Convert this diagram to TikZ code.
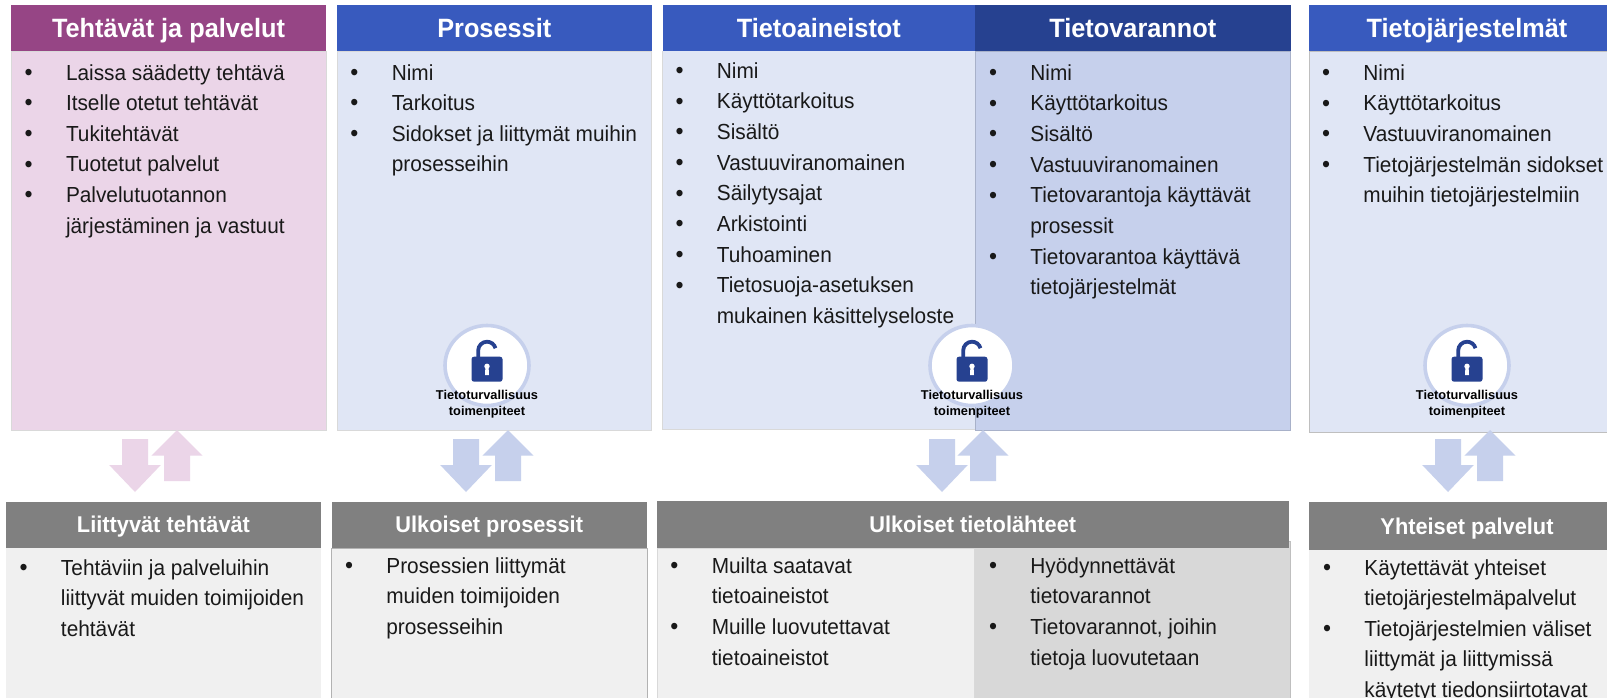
\documentclass[tikz,border=0pt]{standalone}
\usepackage{fontspec}
\setmainfont[FakeStretch=0.955]{Liberation Sans}
\newfontfamily\plainsans{Liberation Sans}
\definecolor{purpH}{HTML}{964585}
\definecolor{purpB}{HTML}{EBD5E8}
\definecolor{blueH}{HTML}{385ABE}
\definecolor{blueD}{HTML}{264190}
\definecolor{blueB}{HTML}{E0E6F5}
\definecolor{blueC}{HTML}{C6D0EC}
\definecolor{greyH}{HTML}{808080}
\definecolor{greyB}{HTML}{F0F0F0}
\definecolor{greyD}{HTML}{D8D8D8}
\definecolor{lockC}{HTML}{264190}
\newcommand{\bxx}[7]{%
  \pgfmathsetmacro{\bw}{#5-#3}\pgfmathsetmacro{\bh}{#6-#4}%
  \node[#2,minimum width=\bw pt,minimum height=\bh pt,anchor=north west] (#1) at (#3,#4) {#7};}
\newcommand{\li}[1]{\makebox[37.4pt][l]{\hspace*{-4pt}\raisebox{-0.2pt}{\scalebox{1.1}{•}}}#1}
\newcommand{\cn}[1]{\hspace*{37.4pt}#1}
\newcommand{\itemsat}[4]{% name, bullet centre x, first baseline y, lines
  \pgfmathsetmacro{\bxpos}{#2-0}\pgfmathsetmacro{\bypos}{#3-20}%
  \node[listtxt,anchor=north west] (#1) at (\bxpos,\bypos) {\rule{0pt}{20pt}#4};}
\newcommand{\lockicon}[2]{% name, centre x
  \node[ringc] (#1ring) at (#2,365.5) {};
  \fill[lockC,rounded corners=2.5pt] (#2-15.5,356.7) rectangle (#2+15.5,381.7);
  \draw[lockC,line width=3.8pt] (#2-8.8,357.5) -- (#2-8.8,350.5) arc[start angle=180,end angle=345,radius=8.8];
  \fill[white] (#2,366.3) circle[radius=2.7];
  \fill[white] (#2-1.6,367) -- (#2+1.6,367) -- (#2+2,375) -- (#2-2,375) -- cycle;
  \node[locktxt] (#1txt) at (#2,404.3) {Tietoturvallisuus\\toimenpiteet};}
\newcommand{\downarr}[2]{% shaft centre x, colour
  \fill[#2] (#1-13,439) -- (#1+13,439) -- (#1+13,465) -- (#1+25.8,465) -- (#1,492) -- (#1-25.8,465) -- (#1-13,465) -- cycle;}
\newcommand{\uparr}[2]{%
  \fill[#2] (#1-13,481) -- (#1+13,481) -- (#1+13,455.7) -- (#1+25.6,455.7) -- (#1,430) -- (#1-25.6,455.7) -- (#1-13,455.7) -- cycle;}
\tikzset{
  boxbase/.style={rectangle,inner sep=0pt,outer sep=0pt,line width=0.9pt},
  headA/.style={boxbase,text=white,font=\fontsize{26.5}{28}\selectfont\bfseries,text height=18.5pt,text depth=0pt},
  headB/.style={boxbase,text=white,font=\fontsize{22.8}{26}\selectfont\bfseries,text height=16pt,text depth=0pt},
  listtxt/.style={inner sep=0pt,outer sep=0pt,align=left,text=black!90,font=\fontsize{21.8}{30.65}\selectfont},
  ringc/.style={ellipse,minimum width=84pt,minimum height=80pt,inner sep=0pt,fill=white,draw=blueC,line width=3.6pt},
  locktxt/.style={inner sep=0pt,align=center,text=black,font=\fontsize{12.8}{16}\selectfont\plainsans\bfseries},
}
\usetikzlibrary{shapes.geometric}
\begin{document}
\begin{tikzpicture}[x=1pt,y=-1pt]
\clip (0,0) rectangle (1607,697);
\fill[white] (0,0) rectangle (1607,697);
% upper bodies
\bxx{b1}{boxbase,fill=purpB,draw=black!15}{11.5}{51}{326}{430.5}{}
\bxx{b2}{boxbase,fill=blueB,draw=black!15}{337}{51}{651.5}{430.5}{}
\bxx{b3r}{boxbase,fill=blueC,draw=blueC!85!black}{975}{51}{1290.6}{430.5}{}
\bxx{b3l}{boxbase,fill=blueB,draw=none}{662.6}{51}{975}{429.5}{}
\draw[black!15,line width=0.9pt] (b3l.north west) -- (b3l.south west) -- (b3l.south east);
\bxx{b4}{boxbase,fill=blueB,draw=black!25}{1309}{51}{1625}{432.7}{}
% upper headers
\bxx{h1}{headA,fill=purpH}{11}{5}{326}{51}{Tehtävät ja palvelut}
\bxx{h2}{headA,fill=blueH}{337}{5}{651.5}{51}{Prosessit}
\bxx{h3l}{headA,fill=blueH}{662.6}{5}{975}{51}{Tietoaineistot}
\bxx{h3r}{headA,fill=blueD}{975}{5}{1290.6}{51}{Tietovarannot}
\bxx{h4}{headA,fill=blueH}{1309}{5}{1625}{51}{Tietojärjestelmät}
% lower bodies
\bxx{c1}{boxbase,fill=greyB,draw=none}{6}{548}{321}{705}{}
\bxx{c2}{boxbase,fill=greyB,draw=black!30}{331.5}{548}{647}{705}{}
\bxx{c3r}{boxbase,fill=greyD,draw=black!25}{974}{541}{1290.6}{705}{}
\bxx{c3l}{boxbase,fill=greyB,draw=black!15}{657}{548}{974}{705}{}
\bxx{c4}{boxbase,fill=greyB,draw=none}{1309}{550}{1625}{705}{}
% lower headers
\bxx{g1}{headB,fill=greyH}{6}{501.7}{321}{548}{Liittyvät tehtävät}
\bxx{g2}{headB,fill=greyH}{331.5}{501.7}{647}{548}{Ulkoiset prosessit}
\bxx{g3}{headB,fill=greyH}{657}{501}{1288.5}{548}{Ulkoiset tietolähteet}
\bxx{g4}{headB,fill=greyH}{1309}{502}{1625}{550}{Yhteiset palvelut}
% arrows
\downarr{135}{purpB}\uparr{177}{purpB}
\downarr{466}{blueC}\uparr{508}{blueC}
\downarr{942}{blueC}\uparr{983}{blueC}
\downarr{1448}{blueC}\uparr{1490}{blueC}
% locks
\lockicon{lk1}{487}
\lockicon{lk2}{972}
\lockicon{lk3}{1467}
% upper lists
\itemsat{t1}{28.6}{80}{\li{Laissa säädetty tehtävä}\\\li{Itselle otetut tehtävät}\\\li{Tukitehtävät}\\\li{Tuotetut palvelut}\\\li{Palvelutuotannon}\\\cn{järjestäminen ja vastuut}}
\itemsat{t2}{354.4}{80}{\li{Nimi}\\\li{Tarkoitus}\\\li{Sidokset ja liittymät muihin}\\\cn{prosesseihin}}
\itemsat{t3}{679.5}{78.3}{\li{Nimi}\\\li{Käyttötarkoitus}\\\li{Sisältö}\\\li{Vastuuviranomainen}\\\li{Säilytysajat}\\\li{Arkistointi}\\\li{Tuhoaminen}\\\li{Tietosuoja-asetuksen}\\\cn{mukainen käsittelyseloste}}
\itemsat{t4}{993}{80.3}{\li{Nimi}\\\li{Käyttötarkoitus}\\\li{Sisältö}\\\li{Vastuuviranomainen}\\\li{Tietovarantoja käyttävät}\\\cn{prosessit}\\\li{Tietovarantoa käyttävä}\\\cn{tietojärjestelmät}}
\itemsat{t5}{1326}{80.3}{\li{Nimi}\\\li{Käyttötarkoitus}\\\li{Vastuuviranomainen}\\\li{Tietojärjestelmän sidokset}\\\cn{muihin tietojärjestelmiin}}
% lower lists
\itemsat{u1}{23.6}{575}{\li{Tehtäviin ja palveluihin}\\\cn{liittyvät muiden toimijoiden}\\\cn{tehtävät}}
\itemsat{u2}{349}{573.3}{\li{Prosessien liittymät}\\\cn{muiden toimijoiden}\\\cn{prosesseihin}}
\itemsat{u3}{674.4}{573.3}{\li{Muilta saatavat}\\\cn{tietoaineistot}\\\li{Muille luovutettavat}\\\cn{tietoaineistot}}
\itemsat{u4}{993}{573.3}{\li{Hyödynnettävät}\\\cn{tietovarannot}\\\li{Tietovarannot, joihin}\\\cn{tietoja luovutetaan}}
\itemsat{u5}{1327}{575}{\li{Käytettävät yhteiset}\\\cn{tietojärjestelmäpalvelut}\\\li{Tietojärjestelmien väliset}\\\cn{liittymät ja liittymissä}\\\cn{käytetyt tiedonsiirtotavat}}
\end{tikzpicture}
\end{document}
